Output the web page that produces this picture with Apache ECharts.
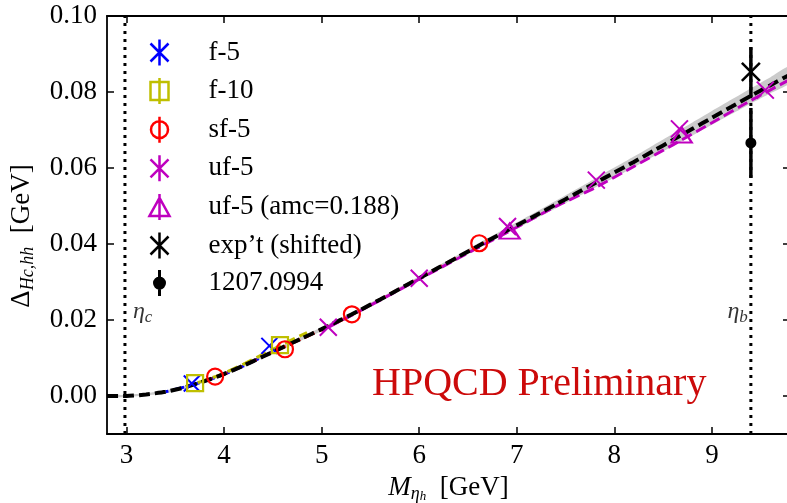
<!DOCTYPE html>
<html><head><meta charset="utf-8">
<script src="https://cdn.jsdelivr.net/npm/echarts@6/dist/echarts.min.js"></script>
<style>html,body{margin:0;padding:0;background:#fff}#c{width:787px;height:503px}</style>
</head><body><div id="c"></div>
<script>
// ---------- data ----------
const xTicks = [3, 4, 5, 6, 7, 8, 9];
const yTicks = [0, 0.02, 0.04, 0.06, 0.08, 0.10];

const f5 = [[3.669, 0.0033], [4.464, 0.0132]];
const f10 = [[3.703, 0.0034], [4.573, 0.0134]];
const sf5 = [[3.908, 0.0051], [4.624, 0.0123], [5.310, 0.0215], [6.615, 0.0402]];
const uf5 = [[5.068, 0.0181], [6.000, 0.0310], [6.905, 0.0446], [7.815, 0.0568], [8.667, 0.0703], [9.547, 0.0805]];
const uf5amc = [[6.927, 0.0434], [8.690, 0.0687]];
// [x, central, low, high]
const expt = [[9.399, 0.0853, 0.0787, 0.0918]];
const lit = [[9.399, 0.0666, 0.0574, 0.0758]];

const fitX = [2.8,3.0,3.2,3.4,3.6,3.8,4.0,4.2,4.4,4.6,4.8,5.0,5.2,5.4,5.6,5.8,6.0,6.2,6.4,6.6,6.8,7.0,7.2,7.4,7.6,7.8,8.0,8.2,8.4,8.6,8.8,9.0,9.2,9.4,9.6,9.8];
const fitY = [0.0000,0.0000,0.0004,0.0011,0.0023,0.0039,0.0058,0.0080,0.0104,0.0128,0.0152,0.0176,0.0201,0.0227,0.0254,0.0282,0.0310,0.0338,0.0366,0.0394,0.0422,0.0449,0.0476,0.0504,0.0532,0.0560,0.0588,0.0616,0.0645,0.0674,0.0703,0.0732,0.0761,0.0790,0.0818,0.0846];
const bandLow = [-0.0003,-0.0003,0.0001,0.0007,0.0019,0.0035,0.0054,0.0076,0.0100,0.0123,0.0147,0.0171,0.0196,0.0222,0.0249,0.0277,0.0305,0.0332,0.0360,0.0387,0.0415,0.0441,0.0467,0.0494,0.0521,0.0548,0.0575,0.0602,0.0630,0.0658,0.0686,0.0714,0.0742,0.0770,0.0797,0.0824];
const bandHigh = [0.0003,0.0003,0.0007,0.0015,0.0027,0.0043,0.0062,0.0084,0.0108,0.0133,0.0157,0.0181,0.0206,0.0232,0.0259,0.0287,0.0315,0.0344,0.0372,0.0401,0.0429,0.0457,0.0485,0.0514,0.0543,0.0572,0.0601,0.0630,0.0660,0.0690,0.0720,0.0750,0.0780,0.0810,0.0839,0.0868];

const f5FitX = [3.40, 3.60, 3.80, 4.00, 4.20, 4.40, 4.50];
const f5FitY = [0.0011, 0.0024, 0.0039, 0.0057, 0.0079, 0.0104, 0.0117];
const f10FitX = [3.65, 3.80, 4.00, 4.20, 4.40, 4.60, 4.85];
const f10FitY = [0.0029, 0.0041, 0.0060, 0.0084, 0.0110, 0.0136, 0.0167];
const sf5FitX = [3.85, 4.00, 4.40, 4.80, 5.20, 5.60, 6.00, 6.40, 6.70];
const sf5FitY = [0.0044, 0.0057, 0.0104, 0.0151, 0.0199, 0.0254, 0.0310, 0.0366, 0.0408];
const uf5FitX = [5.0, 5.4, 5.8, 6.2, 6.6, 7.0, 7.4, 7.8, 8.2, 8.6, 9.0, 9.4, 9.8];
const uf5FitY = [0.0172, 0.0225, 0.0280, 0.0335, 0.0390, 0.0444, 0.0499, 0.0548, 0.0604, 0.0661, 0.0719, 0.0778, 0.0833];

const etaLines = [2.984, 9.399];
const etaSubs = ['c', 'b'];
const etaLabelY = 0.0221;

const legendNames = ['f-5', 'f-10', 'sf-5', 'uf-5', 'uf-5 (amc=0.188)', 'exp\u2019t (shifted)', '1207.0994'];

// ---------- styles ----------
const FONT = 'Liberation Serif';
const BLUE = '#0000ff', YEL = '#bfbf00', RED = '#ff0000', MAG = '#bf00bf', BLK = '#000000';
const X_SYM = 'path://M0,0L10,10M10,0L0,10';
const pair = (xs, ys) => xs.map((x, i) => [x, ys[i]]);

const chart = echarts.init(document.getElementById('c'), null, {renderer: 'canvas'});

function fitLine(name, xs, ys, color, z, width, offset, dash) {
  return {
    type: 'line', name: name, data: pair(xs, ys), z: z, smooth: 0.2,
    symbol: 'none', showSymbol: false, silent: true, clip: true,
    lineStyle: {color: color, width: width, type: dash, dashOffset: offset},
    emphasis: {disabled: true}
  };
}
function scatter(name, data, symbol, size, color, bw, z, fill) {
  return {
    type: 'scatter', name: name, data: data, symbol: symbol, symbolSize: size, z: z, silent: true,
    itemStyle: {color: fill || 'none', borderColor: color, borderWidth: bw, opacity: 1},
    emphasis: {disabled: true}
  };
}
function errBars(name, data) {
  return {
    type: 'custom', name: name, data: data, z: 6, silent: true,
    encode: {x: 0, y: 1},
    renderItem: function (p, api) {
      const x = api.value(0);
      const a = api.coord([x, api.value(2)]);
      const b = api.coord([x, api.value(3)]);
      return {type: 'line', shape: {x1: a[0], y1: a[1], x2: b[0], y2: b[1]},
        style: {stroke: BLK, lineWidth: 3.5}};
    }
  };
}

const axisCommon = {
  axisLine: {show: true, onZero: false, lineStyle: {color: '#000', width: 1.8}},
  axisTick: {show: true, inside: true, length: 7, lineStyle: {color: '#000', width: 1.5}},
  splitLine: {show: false}
};

const option = {
  animation: false,
  backgroundColor: '#ffffff',
  grid: {left: 107, top: 16, right: -3, bottom: 69, containLabel: false, outerBoundsMode: 'none'},
  xAxis: [
    Object.assign({}, axisCommon, {
      type: 'value', min: 2.8, max: 9.8, position: 'bottom',
      axisTick: Object.assign({}, axisCommon.axisTick, {customValues: xTicks}),
      axisLabel: {customValues: xTicks, margin: 8, color: '#000', fontFamily: FONT, fontSize: 27,
        formatter: v => String(v)},
      name: '{it|M}{s|\u03b7}{ss|h}{n|  [GeV]}', nameLocation: 'middle', nameGap: 39,
      nameTextStyle: {color: '#000', fontFamily: FONT, fontSize: 27,
        rich: {
          it: {fontFamily: FONT, fontSize: 27, fontStyle: 'italic', lineHeight: 30, verticalAlign: 'middle', color: '#000'},
          s: {fontFamily: FONT, fontSize: 18, fontStyle: 'italic', lineHeight: 18, verticalAlign: 'bottom', color: '#000'},
          ss: {fontFamily: FONT, fontSize: 13, fontStyle: 'italic', lineHeight: 8, verticalAlign: 'bottom', color: '#000'},
          n: {fontFamily: FONT, fontSize: 27, lineHeight: 30, verticalAlign: 'middle', color: '#000'}
        }}
    }),
    Object.assign({}, axisCommon, {
      type: 'value', min: 2.8, max: 9.8, position: 'top',
      axisTick: Object.assign({}, axisCommon.axisTick, {customValues: xTicks}),
      axisLabel: {show: false}
    })
  ],
  yAxis: [
    Object.assign({}, axisCommon, {
      type: 'value', min: -0.01, max: 0.10, position: 'left',
      axisTick: Object.assign({}, axisCommon.axisTick, {customValues: yTicks}),
      axisLabel: {customValues: yTicks, margin: 10, color: '#000', fontFamily: FONT, fontSize: 27,
        formatter: v => v.toFixed(2)},
      name: '{d|\u0394}{s|Hc,hh}{n|  [GeV]}', nameLocation: 'middle', nameRotate: 90, nameGap: 70,
      nameTextStyle: {color: '#000', fontFamily: FONT, fontSize: 27, padding: [0, 22, 0, 0],
        rich: {
          d: {fontFamily: FONT, fontSize: 27, lineHeight: 30, verticalAlign: 'middle', color: '#000'},
          s: {fontFamily: FONT, fontSize: 18, fontStyle: 'italic', lineHeight: 18, verticalAlign: 'bottom', color: '#000'},
          n: {fontFamily: FONT, fontSize: 27, lineHeight: 30, verticalAlign: 'middle', color: '#000'}
        }}
    }),
    Object.assign({}, axisCommon, {
      type: 'value', min: -0.01, max: 0.10, position: 'right',
      axisTick: Object.assign({}, axisCommon.axisTick, {customValues: yTicks}),
      axisLabel: {show: false}
    })
  ],
  legend: {
    orient: 'vertical', left: 147, top: 37, itemWidth: 88, itemHeight: 26, itemGap: 7.6,
    selectedMode: false, padding: 0,
    textStyle: {color: '#000', fontFamily: FONT, fontSize: 27, lineHeight: 26},
    data: [
      {name: legendNames[0], icon: 'path://M0,4L18,22M18,4L0,22M9,0L9,26',
        itemStyle: {color: 'none', borderColor: BLUE, borderWidth: 2.5}},
      {name: legendNames[1], icon: 'path://M0,4L18,4L18,22L0,22ZM9,0L9,26',
        itemStyle: {color: 'none', borderColor: YEL, borderWidth: 2.5}},
      {name: legendNames[2], icon: 'path://M17,13A8.5,8.5,0,1,1,0,13A8.5,8.5,0,1,1,17,13ZM8.5,0L8.5,26',
        itemStyle: {color: 'none', borderColor: RED, borderWidth: 2.5}},
      {name: legendNames[3], icon: 'path://M0,4L18,22M18,4L0,22M9,0L9,26',
        itemStyle: {color: 'none', borderColor: MAG, borderWidth: 2.5}},
      {name: legendNames[4], icon: 'path://M0,22L10,4L20,22ZM10,0L10,26',
        itemStyle: {color: 'none', borderColor: MAG, borderWidth: 2.5}},
      {name: legendNames[5], icon: 'path://M0,4L18,22M18,4L0,22M9,0L9,26',
        itemStyle: {color: 'none', borderColor: BLK, borderWidth: 2.5}},
      {name: legendNames[6], icon: 'path://M13,13A5,5,0,1,1,3,13A5,5,0,1,1,13,13ZM8,0L8,26',
        itemStyle: {color: BLK, borderColor: BLK, borderWidth: 3}}
    ]
  },
  graphic: [{
    type: 'text', left: 372, top: 364, silent: true,
    style: {text: 'HPQCD Preliminary', fill: '#cc0a0a', font: '40px "Liberation Serif"'}
  }],
  series: [
    {
      type: 'custom', name: 'band', z: 1, silent: true, clip: true,
      data: [[fitX[0], fitY[0]]], encode: {x: 0, y: 1},
      renderItem: function (p, api) {
        const pts = [];
        for (let i = 0; i < fitX.length; i++) pts.push(api.coord([fitX[i], bandHigh[i]]));
        for (let i = fitX.length - 1; i >= 0; i--) pts.push(api.coord([fitX[i], bandLow[i]]));
        return {type: 'polygon', shape: {points: pts, smooth: 0.2}, style: {fill: '#cbcbcb'}};
      }
    },
    {
      type: 'custom', name: 'etaLines', z: 2, silent: true,
      data: etaLines.map(x => [x, 0]), encode: {x: 0, y: 1},
      renderItem: function (p, api) {
        const x = api.value(0);
        const a = api.coord([x, -0.01]);
        const b = api.coord([x, 0.10]);
        return {type: 'line', shape: {x1: a[0], y1: a[1], x2: b[0], y2: b[1]},
          style: {stroke: BLK, lineWidth: 3, lineDash: [3, 5]}};
      }
    },
    fitLine('f5fit', f5FitX, f5FitY, BLUE, 3, 3, 8, [11, 5]),
    fitLine('f10fit', f10FitX, f10FitY, YEL, 3, 3, 8, [11, 5]),
    fitLine('sf5fit', sf5FitX, sf5FitY, RED, 3, 3, 8, [11, 5]),
    fitLine('uf5fit', uf5FitX, uf5FitY, MAG, 3, 3, 8, [11, 5]),
    fitLine('fit', fitX, fitY, BLK, 4, 4, 0, [11, 5]),
    scatter(legendNames[0], f5, X_SYM, 16, BLUE, 2, 5),
    scatter(legendNames[1], f10, 'rect', 16, YEL, 2.2, 5),
    scatter(legendNames[2], sf5, 'circle', 16, RED, 2.2, 5),
    scatter(legendNames[3], uf5, X_SYM, 17, MAG, 2, 5),
    scatter(legendNames[4], uf5amc, 'triangle', [20, 15], MAG, 2.2, 5),
    errBars(legendNames[5], expt),
    errBars(legendNames[6], lit),
    scatter(legendNames[5], expt.map(d => [d[0], d[1]]), X_SYM, 18, BLK, 2.5, 7),
    scatter(legendNames[6], lit.map(d => [d[0], d[1]]), 'circle', 11, BLK, 0, 7, BLK),
    {
      type: 'scatter', name: 'etaLabels', z: 8, silent: true, symbolSize: 0,
      data: [
        {value: [etaLines[0], etaLabelY], label: {position: 'right', distance: 8}},
        {value: [etaLines[1], etaLabelY], label: {position: 'left', distance: 3}}
      ],
      label: {
        show: true,
        formatter: p => '{e|\u03b7}{s|' + etaSubs[p.dataIndex] + '}',
        rich: {
          e: {fontFamily: FONT, fontSize: 24, fontStyle: 'italic', lineHeight: 28, verticalAlign: 'middle', color: '#000'},
          s: {fontFamily: FONT, fontSize: 17, fontStyle: 'italic', lineHeight: 16, verticalAlign: 'bottom', color: '#000'}
        }
      },
      emphasis: {disabled: true}
    }
  ]
};
chart.setOption(option);
</script>
</body></html>
